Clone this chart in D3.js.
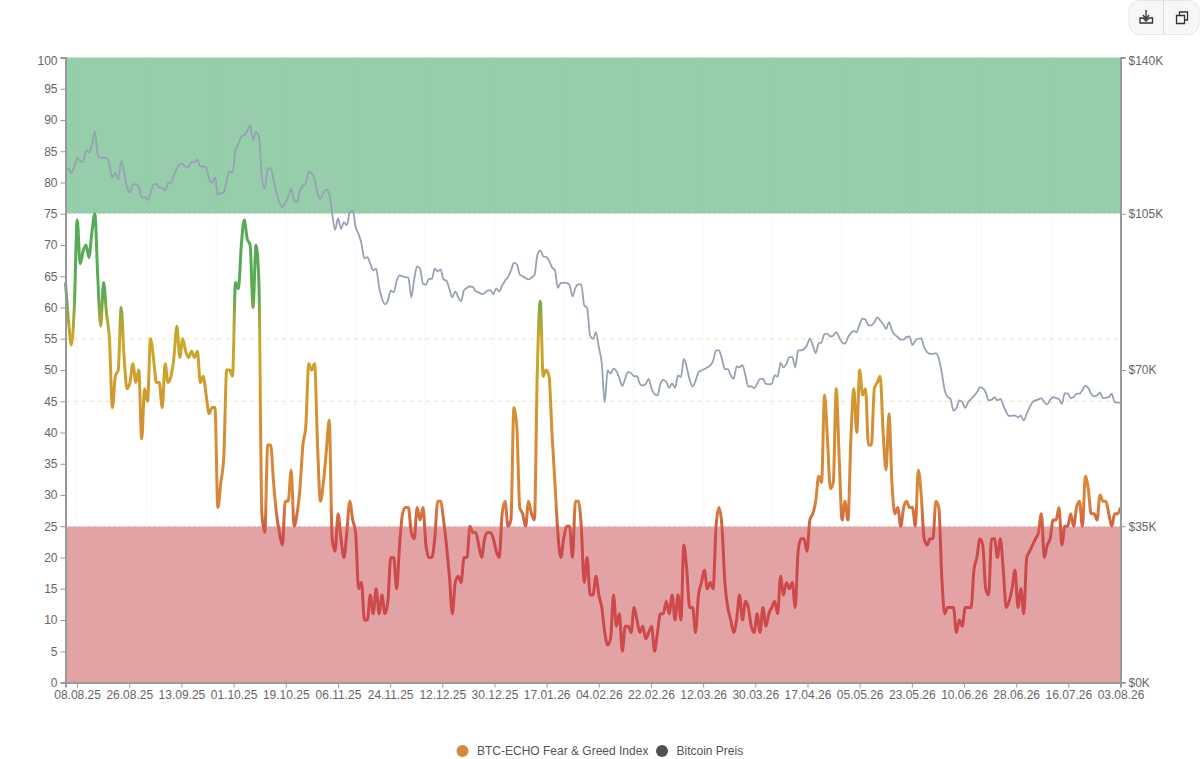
<!DOCTYPE html>
<html>
<head>
<meta charset="utf-8">
<title>BTC-ECHO Fear & Greed Index</title>
<script src="https://cdn.jsdelivr.net/npm/d3@7/dist/d3.min.js"></script>
<style>
  body { margin: 0; background: #fff; }
  svg { display: block; font-family: "Liberation Sans", Arial, sans-serif; }
</style>
</head>
<body>
<svg id="chart" width="1200" height="759"></svg>
<script>
// one reading every ~2.9px from 04.08.25 to 03.08.26
const fearGreed = [
  64,58,54,60,74,67,69,70,68,72,
  75,65,57,64,59,55,44,49,50,60,
  52,47,48,51,48,50,39,47,45,55,
  52,48,48,44,51,48,49,52,57,52,
  55,53,52,53,52,53,48,49,46,43,
  44,44,28,32,36,50,50,49,64,63,
  70,74,71,70,60,70,64,27,24,38,
  38,32,27,24,22,29,29,34,25,27,
  31,38,41,51,50,51,38,29,32,37,
  42,23,21,27,23,20,24,29,26,24,
  15,16,10,10,14,11,15,11,14,11,
  13,20,20,15,22,27,28,28,24,23,
  28,26,28,22,20,20,23,29,29,26,
  22,17,11,16,17,16,20,20,25,24,
  24,22,20,23,24,24,23,21,20,27,
  29,25,26,44,41,28,27,25,29,27,
  26,50,61,49,50,49,40,32,24,20,
  23,25,25,20,29,29,25,16,20,14,
  14,17,14,12,8,6,7,14,9,11,
  5,9,9,8,12,10,8,9,7,8,
  9,5,8,11,11,13,11,14,10,14,
  10,22,18,12,12,8,14,16,18,15,
  16,15,25,28,25,16,12,10,8,10,
  14,10,13,12,9,8,11,8,12,9,
  11,12,13,11,17,14,16,15,16,12,
  21,23,23,21,26,27,29,33,32,46,
  39,31,32,47,36,26,29,26,39,47,
  40,50,46,47,38,38,47,48,49,40,
  34,43,32,27,28,25,28,29,28,28,
  25,34,30,23,22,23,23,29,28,17,
  11,12,12,12,8,10,9,12,12,12,
  18,20,23,22,15,14,23,23,20,23,
  18,12,13,15,18,12,15,11,20,21,
  22,23,24,27,20,22,23,26,26,28,
  22,25,25,27,25,28,29,25,33,31,
  27,27,26,30,29,29,27,25,27,27,
  28
];

// bitcoin price in $K, same dates
const btcPrice = [
  114.6,115.1,114.2,115.5,117.5,116.8,116.6,119.2,118.7,120.3,
  123.5,118.1,117.5,117.5,117.5,116,113.1,114.2,112.7,116.8,
  114.3,111,109.8,111.6,111.6,111,108.6,108.7,108.1,109.5,
  111.6,111.7,110.8,110.8,110.2,111.9,111.9,113.6,115.1,116.1,
  116.1,115.5,115.5,116.6,116.6,117.1,115.6,115.6,115.3,112.8,
  111.9,113.2,109.3,109.6,109.8,112.5,114.5,114.1,119.2,120.7,
  122.3,122.6,123.5,124.8,121.6,123.3,122.2,113.2,110.6,115.1,
  115.2,112.6,109.8,107.6,106.5,107.4,108.7,110.6,108.1,107.6,
  110.2,111.2,111.9,114.5,114,112.8,109.5,108.4,109.7,110.4,
  109.5,105,101.4,104,101.6,103.1,102.4,105.3,105.7,102,
  100.5,98.3,95,95.3,93.8,92.3,92.7,88.6,86,84.7,
  85.6,87.8,87.4,90,91.2,91,90.8,90.7,86.3,90.4,
  93.2,92.7,89.3,89.1,90.4,90.4,92.7,92.1,92.5,90.3,
  90,88.1,86.3,87.6,86.3,85.4,87.9,88.4,88.7,88.6,
  87.6,87.4,87,87.2,87.8,87.9,87,88.3,87.6,88.9,
  90,90.8,92.3,94,93.7,91.4,91,90.6,90.3,90.7,
  91.2,95.7,96.8,95.5,95.3,94.5,93,92.3,88.4,89.5,
  89.5,89.5,89,86.5,88.4,89.2,89.2,84.5,83.9,77.7,
  77,78.5,75.1,71.4,62.8,69.9,69.2,70.3,69.8,68.1,
  66.4,68.1,69.6,69.3,68.6,68.6,66.9,66.5,66.9,68,
  65.8,64.6,64.3,66.9,67.8,67.3,66,67,66,68.8,
  68.4,72.5,70.6,67.8,66.3,67.6,69.5,69.9,70.2,70.6,
  71,72.1,74.4,74.4,72.5,70.2,70.2,68.8,68,70.8,
  70.6,71.1,68.8,66.3,66.3,65.9,66.9,68,68,66.9,
  66.8,66.9,68.8,68.5,71.6,70.6,71.4,72.9,72.9,70.6,
  74.4,74.4,74.7,75.5,77,75.5,73.8,75.9,76.2,78.1,
  78.1,77.5,77.7,78.5,77.3,76.2,75.9,77.3,78.3,78.7,
  78.5,80.3,81.5,81.3,80,80,80.7,81.8,81.1,80.3,
  79.2,80.7,78.9,77.9,77.4,76.8,76.8,77.4,77.5,75.6,
  76.6,77,77.1,75.1,74,73.6,73.6,73.8,72.5,69.5,
  65.5,64,63.5,60.9,61.5,63.2,62.8,61.5,62.8,63.5,
  64.2,65,66.1,65.9,65,63.2,63.3,63.9,63.2,63.5,
  62.1,60.6,59.7,59.8,59.8,59.4,59.8,58.7,60.2,61.7,
  62.8,63.2,63.4,63.7,62.8,62.3,63.3,63.9,63.7,63.5,
  62.4,64.8,64.7,63.7,63.9,64.7,64.7,65.5,66.5,66,
  64.7,64.1,64.3,65,63.7,63.8,63.9,64.7,62.8,62.7,
  62.7
];

const dateLabels = [
  "08.08.25","26.08.25","13.09.25","01.10.25","19.10.25","06.11.25","24.11.25",
  "12.12.25","30.12.25","17.01.26","04.02.26","22.02.26","12.03.26","30.03.26",
  "17.04.26","05.05.26","23.05.26","10.06.26","28.06.26","16.07.26","03.08.26"
];
const scoreTicks = d3.range(0, 101, 5);
const priceTicks = [0, 35, 70, 105, 140];
const zones = [
  { from: 75, to: 100, color: "#2e9b55" },
  { from: 0, to: 25, color: "#c84749" }
];
const neutralLines = [45, 55];
const lineStops = [
  [0, "#cd4a4c"], [23, "#cd4a4c"], [26, "#d2683f"], [29, "#d9843a"], [40, "#d68c35"],
  [50, "#cfa12c"], [55, "#c8aa2a"], [58, "#a8a738"], [62, "#5aab55"], [100, "#4aab5a"]
];
const legendItems = [
  { name: "BTC-ECHO Fear & Greed Index", color: "#d4883a", cx: 462.5, tx: 477 },
  { name: "Bitcoin Preis", color: "#4f5152", cx: 662, tx: 676.5 }
];

const left = 65.5, right = 1120.5, top_ = 57.5, bottom = 682.5;
const parseDate = d3.utcParse("%d.%m.%y");
const tickDates = dateLabels.map(parseDate);
const startDate = parseDate("04.08.25");
const endDate = parseDate("03.08.26");
const gridDates = d3.range(15).map((k) => d3.utcDay.offset(tickDates[0], k * 24));

const x = d3.scaleUtc().domain([startDate, endDate]).range([left, right]);
const y = d3.scaleLinear().domain([0, 100]).range([bottom, top_]);
const yPrice = d3.scaleLinear().domain([0, 140]).range([bottom, top_]);

const step = (endDate - startDate) / (fearGreed.length - 1);
const dates = fearGreed.map((_, i) => new Date(+startDate + i * step));

const svg = d3.select("#chart");

const defs = svg.append("defs");
defs.append("linearGradient")
  .attr("id", "scoreGradient")
  .attr("gradientUnits", "userSpaceOnUse")
  .attr("x1", 0).attr("x2", 0)
  .attr("y1", y(0)).attr("y2", y(100))
  .selectAll("stop")
  .data(lineStops)
  .join("stop")
  .attr("offset", (d) => d[0] / 100)
  .attr("stop-color", (d) => d[1]);

// grid
svg.append("g")
  .selectAll("line")
  .data(gridDates)
  .join("line")
  .attr("x1", (d) => x(d)).attr("x2", (d) => x(d))
  .attr("y1", y(100)).attr("y2", y(0))
  .attr("stroke", "#eee")
  .attr("stroke-dasharray", "3 5");

svg.append("g")
  .selectAll("line")
  .data(neutralLines)
  .join("line")
  .attr("x1", left).attr("x2", right)
  .attr("y1", (d) => y(d)).attr("y2", (d) => y(d))
  .attr("stroke", "#f0e0b8")
  .attr("stroke-dasharray", "4 4");

// fear and greed zones
const zone = svg.append("g")
  .selectAll("g")
  .data(zones)
  .join("g");
zone.append("rect")
  .attr("x", left).attr("width", right - left)
  .attr("y", (d) => y(d.to))
  .attr("height", (d) => y(d.from) - y(d.to))
  .attr("fill", (d) => d.color)
  .attr("fill-opacity", 0.5);
zone.append("line")
  .attr("x1", left).attr("x2", right)
  .attr("y1", (d) => (d.from > 0 ? y(d.from) : y(d.to)))
  .attr("y2", (d) => (d.from > 0 ? y(d.from) : y(d.to)))
  .attr("stroke", "#eee")
  .attr("stroke-dasharray", "3 2");
zone.filter((d) => d.to === 100).append("line")
  .attr("x1", left).attr("x2", right)
  .attr("y1", y(100)).attr("y2", y(100))
  .attr("stroke", "#cfe6d7")
  .attr("stroke-dasharray", "3 2");

// lines
const priceLine = d3.line()
  .curve(d3.curveMonotoneX)
  .x((d, i) => x(dates[i]))
  .y((d) => yPrice(d));
const scoreLine = d3.line()
  .curve(d3.curveMonotoneX)
  .x((d, i) => x(dates[i]))
  .y((d) => y(d));

svg.append("path")
  .datum(btcPrice)
  .attr("fill", "none")
  .attr("stroke", "#96a2b3")
  .attr("stroke-width", 1.8)
  .attr("d", priceLine);

svg.append("path")
  .datum(fearGreed)
  .attr("fill", "none")
  .attr("stroke", "url(#scoreGradient)")
  .attr("stroke-width", 3)
  .attr("stroke-linejoin", "round")
  .attr("d", scoreLine);

// axes
function styleAxis(g) {
  g.select(".domain").attr("stroke", "#999").attr("stroke-width", 2);
  g.selectAll(".tick line").attr("stroke", "#999");
  g.selectAll(".tick text")
    .attr("fill", "#666")
    .attr("font-size", 12)
    .attr("font-family", '"Liberation Sans", Arial, sans-serif');
}

svg.append("g")
  .attr("transform", `translate(${left},0)`)
  .call(d3.axisLeft(y).tickValues(scoreTicks).tickSize(5).tickPadding(3))
  .call(styleAxis)
  .call((g) => g.selectAll(".tick text").filter((d) => d === 100).attr("dy", "0.6em"));

svg.append("g")
  .attr("transform", `translate(${right},0)`)
  .call(d3.axisRight(yPrice).tickValues(priceTicks).tickSize(5).tickPadding(3).tickFormat((d) => `$${d}K`))
  .call(styleAxis)
  .call((g) => g.selectAll(".tick text").filter((d) => d === 140).attr("dy", "0.6em"));

svg.append("g")
  .attr("transform", `translate(0,${bottom})`)
  .call(d3.axisBottom(x).tickValues(tickDates).tickSize(5).tickPadding(3).tickFormat(d3.utcFormat("%d.%m.%y")))
  .call(styleAxis);

// legend
const legend = svg.append("g")
  .selectAll("g")
  .data(legendItems)
  .join("g");
legend.append("circle")
  .attr("cx", (d) => d.cx).attr("cy", 751)
  .attr("r", 6)
  .attr("fill", (d) => d.color);
legend.append("text")
  .attr("x", (d) => d.tx).attr("y", 755)
  .attr("font-size", 12)
  .attr("fill", "#555")
  .text((d) => d.name);

// toolbar buttons, top right
const toolbar = svg.append("g");
toolbar.append("rect")
  .attr("x", 1129).attr("y", 0.5)
  .attr("width", 70).attr("height", 34)
  .attr("rx", 11)
  .attr("fill", "#f7f7f7")
  .attr("stroke", "#e6e6e6");
toolbar.append("line")
  .attr("x1", 1163.5).attr("x2", 1163.5)
  .attr("y1", 1).attr("y2", 34)
  .attr("stroke", "#dcdcdc");
toolbar.append("path")
  .attr("d", "M1140 18h3l3 3 3-3h3.500v5h-12.500zM1146 10v9M1143 15l3 4 3-4")
  .attr("fill", "none")
  .attr("stroke", "#333")
  .attr("stroke-width", 1.3);
toolbar.append("path")
  .attr("d", "M1176.500 15.500h8v8h-8zM1179.500 15.500v-3.500h8v8h-3")
  .attr("fill", "none")
  .attr("stroke", "#333")
  .attr("stroke-width", 1.3);
</script>
</body>
</html>
